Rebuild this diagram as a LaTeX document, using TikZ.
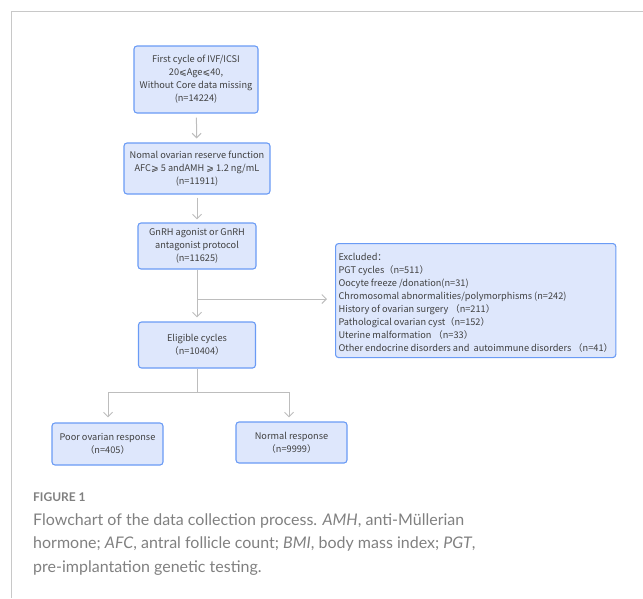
\documentclass[tikz,border=0pt]{standalone}
\usepackage{fontspec}
\usetikzlibrary{arrows.meta}
\newfontfamily\boxfont{Noto Sans CJK SC}
\newfontfamily\symfnt{DejaVu Sans}
\newfontfamily\capfont{Lato}
\definecolor{boxfill}{HTML}{DEE7FC}
\definecolor{boxline}{HTML}{6A9BF5}
\definecolor{arrowgrey}{HTML}{BDBDBD}
\definecolor{textgrey}{HTML}{404040}
\definecolor{capgrey}{HTML}{808080}
\definecolor{framegrey}{HTML}{C8C8C8}
\newcommand{\leqs}{{\symfnt\char"2A7D}}
\newcommand{\geqs}{{\symfnt\char"2A7E}}
\tikzset{
  flowbox/.style={draw=boxline, fill=boxfill, rounded corners=3pt, line width=1.1pt,
    align=center, inner sep=0pt, text=textgrey,
    font=\boxfont\fontsize{9.2}{13}\selectfont},
  conn/.style={draw=arrowgrey, line width=1pt},
  arr/.style={conn, -{Straight Barb[length=4.5pt,width=9pt]}},
  capline/.style={anchor=base west, inner sep=0pt, text=capgrey,
    font=\capfont\fontsize{16}{20}\selectfont}
}
\begin{document}
\begin{tikzpicture}[x=1pt,y=-1pt]
\useasboundingbox (0,0) rectangle (643,598);
\draw[framegrey, line width=1pt] (11,598) -- (11,11) -- (643,11);

\node[flowbox, minimum width=124pt, minimum height=67pt] (b1) at (196,79.5)
  {First cycle of IVF/ICSI\\20\leqs Age\leqs 40,\\Without Core data missing\\(n=14224)};
\node[flowbox, minimum width=146pt, minimum height=51pt] (b2) at (197,168.5)
  {Nomal ovarian reserve function\\AFC\geqs\ 5 andAMH \geqs\ 1.2 ng/mL\\(n=11911)};
\node[flowbox, minimum width=118pt, minimum height=46pt] (b3) at (197,246)
  {GnRH agonist or GnRH\\antagonist protocol\\(n=11625)};
\node[flowbox, minimum width=117pt, minimum height=46pt] (b4) at (197,345)
  {Eligible cycles\\（n=10404）};
\node[flowbox, minimum width=111pt, minimum height=42pt] (poor) at (107.5,444)
  {Poor ovarian response\\（n=405）};
\node[flowbox, minimum width=111pt, minimum height=41pt] (normal) at (291.5,442.5)
  {Normal response\\（n=9999）};
\node[flowbox, align=left, anchor=north west, minimum width=279pt, minimum height=114pt, inner xsep=3pt, inner ysep=0pt] (excl) at (335,243)
  {\rule{0pt}{12pt}Excluded：\\PGT cycles（n=511）\\Oocyte freeze /donation(n=31)\\Chromosomal abnormalities/polymorphisms (n=242)\\History of ovarian surgery （n=211）\\Pathological ovarian cyst（n=152）\\Uterine malformation （n=33）\\Other endocrine disorders and\ \ autoimmune disorders （n=41）};

\draw[arr, shorten <=4pt, shorten >=4pt] (b1) -- (b2);
\draw[arr, shorten <=3pt, shorten >=3pt] (b2) -- (b3);
\draw[arr, shorten >=4pt] (b3) -- (b4);
\coordinate (br) at (197,299);
\draw[arr, shorten >=8pt] (br) -- (excl.west |- br);
\coordinate (split) at (197,392);
\coordinate (sl) at (108,392);
\coordinate (sr) at (289,392);
\draw[conn] (b4.south) -- (split);
\draw[conn] (sl) -- (sr);
\draw[arr, shorten >=5pt] (sl) -- (sl |- poor.north);
\draw[arr, shorten >=4pt] (sr) -- (sr |- normal.north);

\node[anchor=base west, inner sep=0pt, text=capgrey, font=\capfont\bfseries\fontsize{12}{15}\selectfont] (fig) at (33,501) {FIGURE 1};
\node[capline] (c1) at (33,525) {Flowchart of the data collection process. \textit{AMH}, anti-Müllerian};
\node[capline] (c2) at (33,548.5) {hormone; \textit{AFC}, antral follicle count; \textit{BMI}, body mass index; \textit{PGT},};
\node[capline] (c3) at (33,572) {pre-implantation genetic testing.};
\end{tikzpicture}
\end{document}
